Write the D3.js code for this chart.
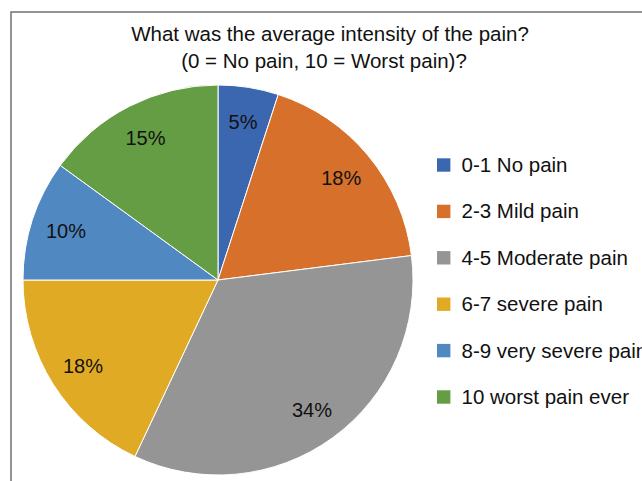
<!DOCTYPE html>
<html>
<head>
<meta charset="utf-8">
<script src="https://cdn.jsdelivr.net/npm/d3@7"></script>
<style>
  html, body { margin: 0; padding: 0; background: #fff; }
  svg { display: block; font-family: "Liberation Sans", Arial, sans-serif; }
</style>
</head>
<body>
<svg id="chart" width="642" height="481"></svg>
<script>
// Pain intensity categories and their share of respondents (%)
const categories = ["0-1 No pain", "2-3 Mild pain", "4-5 Moderate pain", "6-7 severe pain", "8-9 very severe pain", "10 worst pain ever"];
const values = [5, 18, 34, 18, 10, 15];
const colors = ["#3b67b0", "#d6702b", "#959595", "#e1aa25", "#5088c1", "#659d44"];
const titleLines = ["What was the average intensity of the pain?", "(0 = No pain, 10 = Worst pain)?"];

const svg = d3.select("#chart");

// Chart frame
svg.append("rect")
  .attr("x", 11).attr("y", 12)
  .attr("width", 700).attr("height", 500)
  .attr("fill", "#fff")
  .attr("stroke", "#707070")
  .attr("stroke-width", 1.5);

// Title
svg.append("g").selectAll("text")
  .data(titleLines)
  .join("text")
  .attr("x", (d, i) => i === 0 ? 330 : 324)
  .attr("y", (d, i) => 41 + i * 27)
  .attr("text-anchor", "middle")
  .attr("font-size", 20.5)
  .attr("fill", "#111")
  .text(d => d);

// Pie
const cx = 218, cy = 280, radius = 195;
const pie = d3.pie().sort(null).value(d => d.value);
const arcs = pie(categories.map((c, i) => ({ category: c, value: values[i], color: colors[i] })));
const arc = d3.arc().innerRadius(0).outerRadius(radius);
const labelArc = d3.arc().innerRadius(radius * 0.82).outerRadius(radius * 0.82);

const g = svg.append("g").attr("transform", `translate(${cx},${cy})`);
g.selectAll("path")
  .data(arcs)
  .join("path")
  .attr("d", arc)
  .attr("fill", d => d.data.color)
  .attr("stroke", "#fff")
  .attr("stroke-width", 1);

g.selectAll("text")
  .data(arcs)
  .join("text")
  .attr("transform", d => `translate(${labelArc.centroid(d)})`)
  .attr("text-anchor", "middle")
  .attr("dy", "0.36em")
  .attr("font-size", 20)
  .attr("fill", "#111")
  .text(d => d.data.value + "%");

// Legend (the last-but-one entry runs past the right edge of the frame)
const legend = svg.append("g").attr("transform", "translate(437,158.3)");
const rows = legend.selectAll("g")
  .data(categories)
  .join("g")
  .attr("transform", (d, i) => `translate(0,${i * 46.4})`);
rows.append("rect")
  .attr("width", 13.4).attr("height", 13.4)
  .attr("fill", (d, i) => colors[i]);
rows.append("text")
  .attr("x", 24.5).attr("y", 13.6)
  .attr("font-size", 20.5)
  .attr("fill", "#111")
  .text(d => d);
</script>
</body>
</html>
